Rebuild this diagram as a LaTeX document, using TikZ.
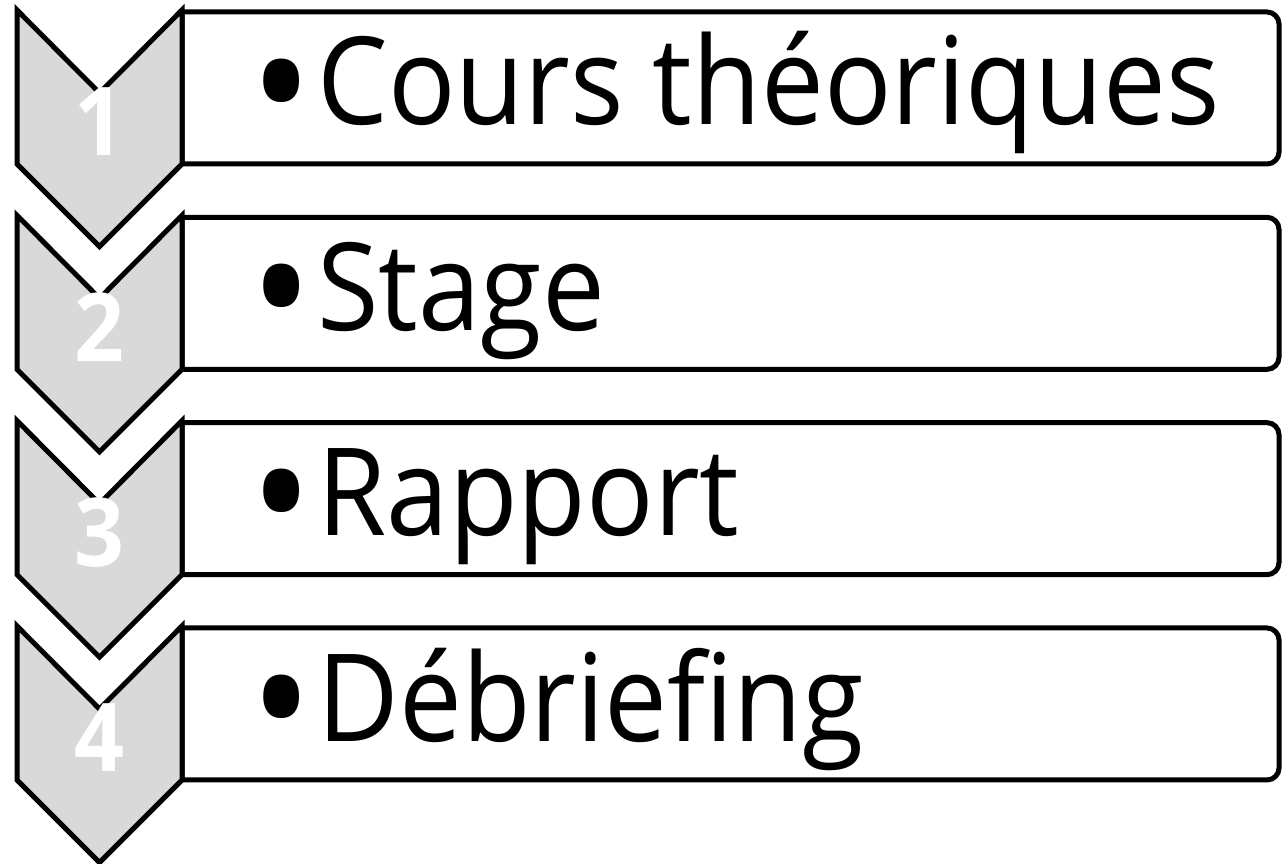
\documentclass[tikz,border=0pt]{standalone}
\usepackage{fontspec}
\setmainfont{Open Sans}[FakeStretch=0.92]
\newcommand{\bigbullet}{{\fontsize{180}{180}\selectfont\raisebox{-21pt}{•}}\kern5pt}
\begin{document}
\begin{tikzpicture}[x=1pt,y=-1pt,
  chev/.style={draw=black,line width=5pt,fill=chevgray,line join=miter},
  itembox/.style={draw=black,line width=5pt,fill=white},
  lbl/.style={inner sep=0pt,anchor=base west,text=black,font=\fontsize{121.8}{140}\selectfont},
  num/.style={inner sep=0pt,text=white,font=\fontsize{95}{110}\selectfont\bfseries}]
\definecolor{chevgray}{HTML}{D9D9D9}
\useasboundingbox (0,0) rectangle (1283,864);
\foreach \k in {0,1,2,3}{
  \pgfmathsetmacro{\t}{10+\k*205.33}
  \draw[itembox] (182,\t+2) [rounded corners=12pt] -- (1279,\t+2) -- (1279,\t+154) [sharp corners] -- (182,\t+154) -- cycle;
  \draw[chev] (17,\t) -- (99.5,\t+83) -- (182,\t) -- (182,\t+154) -- (99.5,\t+236.5) -- (17,\t+154) -- cycle;
}
\node[num] (n1) at (99.5,122) {1};
\node[num] (n2) at (99.5,327.3) {2};
\node[num] (n3) at (99.5,532.7) {3};
\node[num] (n4) at (99.5,738) {4};
\node[lbl] (t1) at (250,125) {\bigbullet Cours théoriques};
\node[lbl] (t2) at (250,330.3) {\bigbullet Stage};
\node[lbl] (t3) at (250,535.7) {\bigbullet Rapport};
\node[lbl] (t4) at (250,741) {\bigbullet Débriefing};
\end{tikzpicture}
\end{document}
